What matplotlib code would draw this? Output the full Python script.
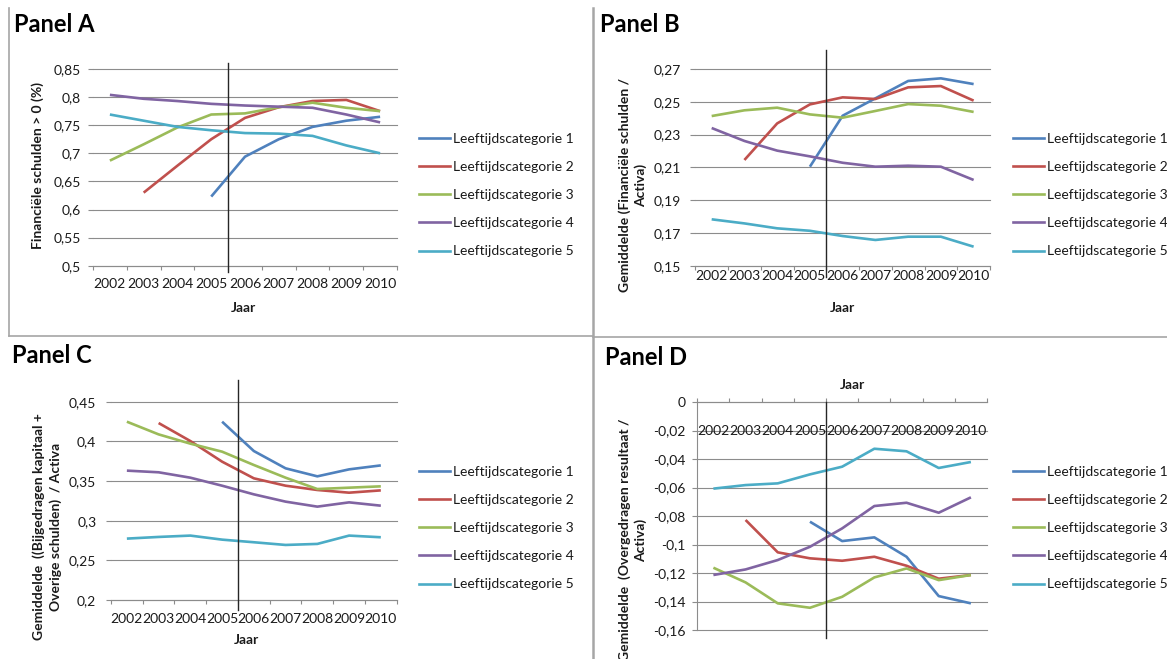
import numpy as np
import matplotlib
matplotlib.use("Agg")
import matplotlib.pyplot as plt
from matplotlib.lines import Line2D
from matplotlib.ticker import FixedLocator, FuncFormatter, NullFormatter

plt.rcParams['font.family'] = ['Lato', 'DejaVu Sans']

W, H = 1167, 659
nan = np.nan

years = ['2002', '2003', '2004', '2005', '2006', '2007', '2008', '2009', '2010']
categories = ['Leeftijdscategorie 1', 'Leeftijdscategorie 2', 'Leeftijdscategorie 3',
              'Leeftijdscategorie 4', 'Leeftijdscategorie 5']
colors = ['#4F81BD', '#C0504D', '#9BBB59', '#8064A2', '#4BACC6']

# Panel A: share with financial debt > 0
a_cat1 = [nan, nan, nan, 0.623, 0.694, 0.725, 0.747, 0.758, 0.765]
a_cat2 = [nan, 0.630, 0.678, 0.725, 0.763, 0.782, 0.793, 0.795, 0.775]
a_cat3 = [0.687, 0.716, 0.746, 0.769, 0.771, 0.782, 0.790, 0.781, 0.775]
a_cat4 = [0.804, 0.797, 0.793, 0.788, 0.785, 0.783, 0.781, 0.769, 0.755]
a_cat5 = [0.769, 0.758, 0.747, 0.741, 0.736, 0.735, 0.731, 0.714, 0.700]
a_ticks = [0.5, 0.55, 0.6, 0.65, 0.7, 0.75, 0.8, 0.85]

# Panel B: financial debt / assets
b_cat1 = [nan, nan, nan, 0.2104, 0.2415, 0.2521, 0.2627, 0.2643, 0.2608]
b_cat2 = [nan, 0.2145, 0.2368, 0.2484, 0.2527, 0.2517, 0.2588, 0.2596, 0.2507]
b_cat3 = [0.2413, 0.2448, 0.2464, 0.2423, 0.2403, 0.2444, 0.2486, 0.2476, 0.2438]
b_cat4 = [0.2340, 0.2261, 0.2202, 0.2167, 0.2128, 0.2104, 0.2110, 0.2104, 0.2023]
b_cat5 = [0.1783, 0.1758, 0.1728, 0.1713, 0.1681, 0.1657, 0.1677, 0.1677, 0.1616]
b_ticks = [0.15, 0.17, 0.19, 0.21, 0.23, 0.25, 0.27]

# Panel C: (contributed capital + other debt) / assets
c_cat1 = [nan, nan, nan, 0.4248, 0.3878, 0.3660, 0.3559, 0.3647, 0.3697]
c_cat2 = [nan, 0.4231, 0.4004, 0.3744, 0.3534, 0.3441, 0.3387, 0.3353, 0.3382]
c_cat3 = [0.4248, 0.4088, 0.3971, 0.3870, 0.3702, 0.3542, 0.3399, 0.3416, 0.3433]
c_cat4 = [0.3631, 0.3610, 0.3542, 0.3441, 0.3332, 0.3240, 0.3177, 0.3231, 0.3189]
c_cat5 = [0.2774, 0.2795, 0.2812, 0.2761, 0.2728, 0.2694, 0.2707, 0.2812, 0.2791]
c_ticks = [0.2, 0.25, 0.3, 0.35, 0.4, 0.45]

# Panel D: retained earnings / assets
d_cat1 = [nan, nan, nan, -0.0840, -0.0976, -0.0950, -0.1086, -0.1362, -0.1413]
d_cat2 = [nan, -0.0828, -0.1055, -0.1097, -0.1114, -0.1086, -0.1149, -0.1240, -0.1214]
d_cat3 = [-0.1163, -0.1266, -0.1413, -0.1444, -0.1367, -0.1231, -0.1168, -0.1250, -0.1214]
d_cat4 = [-0.1214, -0.1175, -0.1109, -0.1016, -0.0887, -0.0730, -0.0707, -0.0777, -0.0669]
d_cat5 = [-0.0608, -0.0583, -0.0571, -0.0508, -0.0454, -0.0328, -0.0346, -0.0463, -0.0421]
d_ticks = [-0.16, -0.14, -0.12, -0.1, -0.08, -0.06, -0.04, -0.02, 0]

GRID = '#8C8C8C'
TXT = '#1A1A1A'
LINE_W = 1.9
FS = 10

fig = plt.figure(figsize=(W / 100, H / 100), dpi=100)
fig.patch.set_facecolor('white')


def px_axes(left, top, right, bottom):
    return fig.add_axes([left / W, 1 - bottom / H, (right - left) / W, (bottom - top) / H])


def dec_comma(v, _pos=None):
    s = f"{round(v, 2):g}"
    return s.replace('.', ',')


def build(ax, series, ticks, xpad, ypad, split_span, top_axis=False, label_y=None):
    x = np.arange(len(years))
    for vals, col in zip(series, colors):
        ax.plot(x, vals, color=col, lw=LINE_W, solid_capstyle='butt', clip_on=False)
    ax.set_xlim(-0.5, len(years) - 0.5)
    ax.set_ylim(ticks[0], ticks[-1])
    ax.set_facecolor('none')
    for s in ax.spines.values():
        s.set_visible(False)
    ax.yaxis.set_major_locator(FixedLocator(ticks))
    ax.yaxis.set_major_formatter(FuncFormatter(dec_comma))
    ax.yaxis.grid(True, color=GRID, lw=0.8)
    for gl in ax.get_ygridlines():
        gl.set_clip_on(False)
    ax.tick_params(axis='y', length=3.6, width=0.8, color=GRID, pad=ypad,
                   labelsize=FS, labelcolor=TXT)
    ax.xaxis.set_minor_locator(FixedLocator(np.arange(-0.5, len(years), 1.0)))
    ax.xaxis.set_minor_formatter(NullFormatter())
    ax.xaxis.set_major_locator(FixedLocator(x))
    if top_axis:
        for side in ('top', 'left'):
            ax.spines[side].set_visible(True)
            ax.spines[side].set_color(GRID)
            ax.spines[side].set_linewidth(0.8)
        ax.xaxis.set_ticks_position('top')
        ax.tick_params(axis='x', which='minor', length=3, width=0.8, color=GRID,
                       direction='out')
        ax.tick_params(axis='x', which='major', length=0, labeltop=False,
                       labelbottom=False)
        for xi, yr in zip(x, years):
            ax.text(xi, label_y, yr, transform=ax.get_xaxis_transform(),
                    ha='center', va='center', fontsize=FS, color=TXT)
    else:
        ax.spines['bottom'].set_visible(True)
        ax.spines['bottom'].set_color(GRID)
        ax.spines['bottom'].set_linewidth(0.8)
        ax.tick_params(axis='x', which='minor', length=3, width=0.8, color=GRID,
                       direction='out')
        ax.tick_params(axis='x', which='major', length=0, pad=xpad, labelsize=FS,
                       labelcolor=TXT)
        ax.set_xticklabels(years)
    # marker line between 2005 and 2006
    split = 3.5
    ax.plot([split, split], split_span, transform=ax.get_xaxis_transform(),
            color='#262626', lw=1.0, clip_on=False, zorder=5)


def legend_at(x0, y0):
    handles = [Line2D([], [], color=c, lw=LINE_W) for c in colors]
    fig.legend(handles, categories, loc='upper left',
               bbox_to_anchor=(x0 / W, 1 - y0 / H), frameon=False, fontsize=FS,
               handlelength=2.2, handletextpad=0.25, labelspacing=1.16,
               borderpad=0, borderaxespad=0, labelcolor=TXT)


# Panel A
axA = px_axes(93, 69, 397, 265.7)
build(axA, [a_cat1, a_cat2, a_cat3, a_cat4, a_cat5], a_ticks, xpad=8.5, ypad=5,
      split_span=[-0.032, 1.03])
legend_at(419, 133)

# Panel B
axB = px_axes(695.3, 69, 990, 265.7)
build(axB, [b_cat1, b_cat2, b_cat3, b_cat4, b_cat5], b_ticks, xpad=3, ypad=7,
      split_span=[-0.057, 1.097])
legend_at(1013, 133)

# Panel C
axC = px_axes(111, 401.7, 396.7, 600)
build(axC, [c_cat1, c_cat2, c_cat3, c_cat4, c_cat5], c_ticks, xpad=9.5, ypad=7,
      split_span=[-0.05, 1.109])
legend_at(419, 466)

# Panel D
axD = px_axes(697.3, 402, 987, 630)
build(axD, [d_cat1, d_cat2, d_cat3, d_cat4, d_cat5], d_ticks, xpad=0, ypad=5,
      split_span=[-0.035, 1.0], top_axis=True, label_y=(630 - 431) / 228)
legend_at(1013, 466)

# Panel titles
for tx, ty, t in [(14, 32, 'Panel A'), (600, 32, 'Panel B'),
                  (12, 363, 'Panel C'), (605, 365, 'Panel D')]:
    fig.text(tx / W, 1 - ty / H, t, fontsize=17, fontweight='bold', color='black',
             ha='left', va='baseline')

# Axis titles
LBL = dict(fontsize=10, fontweight='bold', color=TXT, ha='center', va='center')
fig.text(243 / W, 1 - 308 / H, 'Jaar', **LBL)
fig.text(842 / W, 1 - 308 / H, 'Jaar', **LBL)
fig.text(246 / W, 1 - 640 / H, 'Jaar', **LBL)
fig.text(852 / W, 1 - 385 / H, 'Jaar', **LBL)

fig.text(38 / W, 1 - 166 / H, 'Financiële schulden > 0 (%)', rotation=90, **LBL)
fig.text(632.5 / W, 1 - 185 / H, 'Gemiddelde (Financiële schulden /\nActiva)',
         rotation=90, linespacing=1.35, multialignment='center', **LBL)
fig.text(47 / W, 1 - 527 / H,
         'Gemiddelde  ((Bijgedragen kapitaal +\nOverige schulden)  / Activa',
         rotation=90, linespacing=1.35, multialignment='center', **LBL)
fig.text(633 / W, 1 - 540 / H, 'Gemiddelde  (Overgedragen resultaat /\nActiva)',
         rotation=90, linespacing=1.35, multialignment='center', **LBL)

# Panel frames
FRAME = '#A6A6A6'


def fig_line(xs, ys, lw=1.2):
    fig.add_artist(Line2D([x / W for x in xs], [1 - y / H for y in ys],
                          color=FRAME, lw=lw, transform=fig.transFigure))


fig_line([9, 9], [8, 336])
fig_line([9, 593], [336, 336])
fig_line([593, 593], [8, 659], lw=1.8)
fig_line([593, 1167], [337, 337])

fig.savefig('out.png', dpi=100)
